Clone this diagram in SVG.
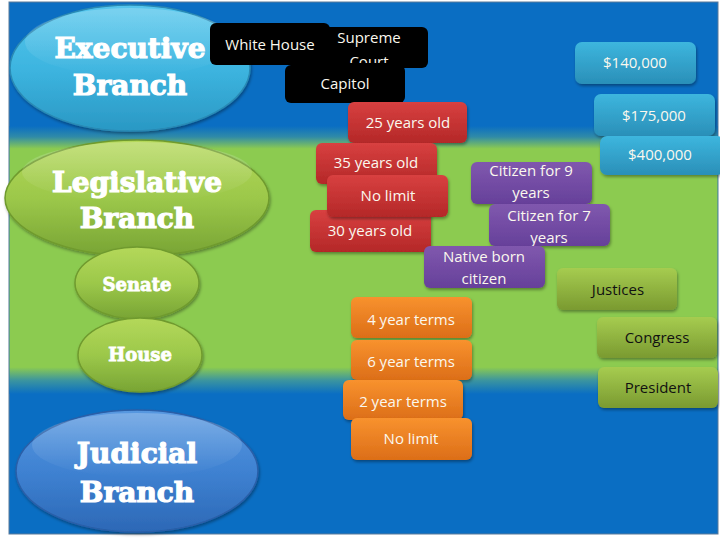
<svg xmlns="http://www.w3.org/2000/svg" width="720" height="540" viewBox="0 0 720 540">
<defs>
<linearGradient id="gBand" x1="0" y1="0" x2="0" y2="1">
<stop offset="0" stop-color="#0a6ec3"/><stop offset="0.04" stop-color="#2f8aa8"/><stop offset="0.085" stop-color="#8ccb50"/>
<stop offset="0.9" stop-color="#8ccb50"/><stop offset="0.95" stop-color="#3a94a0"/><stop offset="1" stop-color="#0a6ec3"/>
</linearGradient>
<linearGradient id="gExe" x1="0" y1="0" x2="0" y2="1"><stop offset="0" stop-color="#55c6ec"/><stop offset="0.5" stop-color="#3db5e0"/><stop offset="1" stop-color="#2a98c4"/></linearGradient>
<linearGradient id="gLeg" x1="0" y1="0" x2="0" y2="1"><stop offset="0" stop-color="#b4d85a"/><stop offset="0.5" stop-color="#9cc84a"/><stop offset="1" stop-color="#78a434"/></linearGradient>
<linearGradient id="gJud" x1="0" y1="0" x2="0" y2="1"><stop offset="0" stop-color="#5898e0"/><stop offset="0.5" stop-color="#3f82d2"/><stop offset="1" stop-color="#2c68b6"/></linearGradient>
<linearGradient id="gCy" x1="0" y1="0" x2="0" y2="1"><stop offset="0" stop-color="#3db6de"/><stop offset="1" stop-color="#2a8fb8"/></linearGradient>
<linearGradient id="gRd" x1="0" y1="0" x2="0" y2="1"><stop offset="0" stop-color="#d84040"/><stop offset="1" stop-color="#b42828"/></linearGradient>
<linearGradient id="gPu" x1="0" y1="0" x2="0" y2="1"><stop offset="0" stop-color="#8058ae"/><stop offset="1" stop-color="#66409a"/></linearGradient>
<linearGradient id="gOr" x1="0" y1="0" x2="0" y2="1"><stop offset="0" stop-color="#f8922e"/><stop offset="1" stop-color="#dc6e18"/></linearGradient>
<linearGradient id="gOl" x1="0" y1="0" x2="0" y2="1"><stop offset="0" stop-color="#a6cc50"/><stop offset="1" stop-color="#7a9a30"/></linearGradient>
<linearGradient id="gHi" x1="0" y1="0" x2="0" y2="1"><stop offset="0" stop-color="#ffffff" stop-opacity="0.22"/><stop offset="1" stop-color="#ffffff" stop-opacity="0"/></linearGradient>
<filter id="sh" x="-10%" y="-10%" width="130%" height="140%"><feDropShadow dx="1" dy="2" stdDeviation="1.5" flood-color="#000" flood-opacity="0.35"/></filter>
<clipPath id="cSup"><rect x="320" y="27" width="108" height="36"/></clipPath>
<style>
.box{filter:url(#sh)}
.blk{fill:#000}
.cy{fill:url(#gCy)}
.rd{fill:url(#gRd)}
.pu{fill:url(#gPu)}
.or{fill:url(#gOr)}
.ol{fill:url(#gOl)}
.t{font-family:"Open Sans","Liberation Sans",sans-serif;font-size:15px;fill:#fbf8ee;text-anchor:middle}
.tk{fill:#111}
.br{font-family:"DejaVu Serif","Liberation Serif",serif;font-weight:bold;font-size:28px;fill:#fff;stroke:#fff;stroke-width:1.2;text-anchor:middle}
.sm{font-size:18px;stroke-width:0.8}
</style>
</defs>
<rect x="0" y="0" width="720" height="540" fill="#ffffff"/>
<rect x="9" y="2" width="709" height="532" fill="#0a6ec3" stroke="#5a7a9a" stroke-width="1"/>
<rect x="9.5" y="126" width="708" height="268" fill="url(#gBand)"/>

<g id="executive">
<ellipse cx="130" cy="68" rx="120" ry="63" fill="url(#gExe)" stroke="#2a8ab4" stroke-width="1.5" filter="url(#sh)"/>
<ellipse cx="130" cy="42" rx="105" ry="34" fill="url(#gHi)"/>
<text class="br" x="130" y="58">Executive</text>
<text class="br" x="130" y="95">Branch</text>
</g>
<g id="legislative">
<ellipse cx="137" cy="198" rx="132" ry="58" fill="url(#gLeg)" stroke="#6f9a2e" stroke-width="1.5" filter="url(#sh)"/>
<ellipse cx="137" cy="172" rx="115" ry="30" fill="url(#gHi)"/>
<text class="br" x="137" y="192">Legislative</text>
<text class="br" x="137" y="228">Branch</text>
</g>
<g id="senate">
<ellipse cx="137" cy="283" rx="62" ry="36" fill="url(#gLeg)" stroke="#6f9a2e" stroke-width="1.5" filter="url(#sh)"/>
<text class="br sm" x="137" y="291">Senate</text>
</g>
<g id="house">
<ellipse cx="140" cy="355" rx="62" ry="37" fill="url(#gLeg)" stroke="#6f9a2e" stroke-width="1.5" filter="url(#sh)"/>
<text class="br sm" x="140" y="361">House</text>
</g>
<g id="judicial">
<ellipse cx="137" cy="471" rx="121" ry="61" fill="url(#gJud)" stroke="#2a5fa8" stroke-width="1.5" filter="url(#sh)"/>
<ellipse cx="137" cy="445" rx="105" ry="32" fill="url(#gHi)"/>
<text class="br" x="137" y="463">Judicial</text>
<text class="br" x="137" y="502">Branch</text>
</g>

<g id="white-house"><rect class="blk" x="210" y="23" width="120" height="42" rx="6"/><text class="t" x="270" y="50">White House</text></g>
<g id="supreme-court"><rect class="blk" x="320" y="27" width="108" height="41" rx="6"/>
<g clip-path="url(#cSup)"><text class="t" x="369" y="43">Supreme</text><text class="t" x="369" y="67">Court</text></g></g>
<g id="capitol"><rect class="blk" x="285" y="65" width="120" height="38" rx="6"/><text class="t" x="345" y="89">Capitol</text></g>

<g id="salary-140"><rect class="box cy" x="575" y="42" width="121" height="42" rx="7"/><text class="t" x="635" y="68">$140,000</text></g>
<g id="salary-175"><rect class="box cy" x="594" y="94" width="121" height="42" rx="7"/><text class="t" x="654" y="121">$175,000</text></g>
<g id="salary-400"><rect class="box cy" x="600" y="136" width="124" height="39" rx="7"/><text class="t" x="660" y="160">$400,000</text></g>

<g id="age-25"><rect class="box rd" x="348" y="102" width="119" height="41" rx="6"/><text class="t" x="408" y="128">25 years old</text></g>
<g id="age-35"><rect class="box rd" x="316" y="143" width="121" height="41" rx="6"/><text class="t" x="376" y="168">35 years old</text></g>
<g id="age-30"><rect class="box rd" x="310" y="210" width="121" height="42" rx="6"/><text class="t" x="370" y="236">30 years old</text></g>
<g id="limit-red"><rect class="box rd" x="327" y="175" width="121" height="42" rx="6"/><text class="t" x="388" y="201">No limit</text></g>

<g id="citizen-9"><rect class="box pu" x="471" y="162" width="121" height="42" rx="6"/><text class="t" x="531" y="176">Citizen for 9</text><text class="t" x="531" y="198">years</text></g>
<g id="citizen-7"><rect class="box pu" x="489" y="204" width="121" height="42" rx="6"/><text class="t" x="549" y="221">Citizen for 7</text><text class="t" x="549" y="243">years</text></g>
<g id="native-born"><rect class="box pu" x="424" y="246" width="121" height="42" rx="6"/><text class="t" x="484" y="262">Native born</text><text class="t" x="484" y="284">citizen</text></g>

<g id="term-4"><rect class="box or" x="351" y="297" width="121" height="41" rx="6"/><text class="t" x="411" y="325">4 year terms</text></g>
<g id="term-6"><rect class="box or" x="351" y="340" width="121" height="40" rx="6"/><text class="t" x="411" y="367">6 year terms</text></g>
<g id="term-2"><rect class="box or" x="343" y="380" width="120" height="40" rx="6"/><text class="t" x="403" y="407">2 year terms</text></g>
<g id="limit-orange"><rect class="box or" x="351" y="418" width="121" height="42" rx="6"/><text class="t" x="411" y="444">No limit</text></g>

<g id="justices"><rect class="box ol" x="557" y="268" width="120" height="42" rx="6"/><text class="t tk" x="618" y="295">Justices</text></g>
<g id="congress"><rect class="box ol" x="597" y="317" width="120" height="41" rx="6"/><text class="t tk" x="657" y="343">Congress</text></g>
<g id="president"><rect class="box ol" x="598" y="367" width="120" height="41" rx="6"/><text class="t tk" x="658" y="393">President</text></g>

<g id="connectors"/>
</svg>
